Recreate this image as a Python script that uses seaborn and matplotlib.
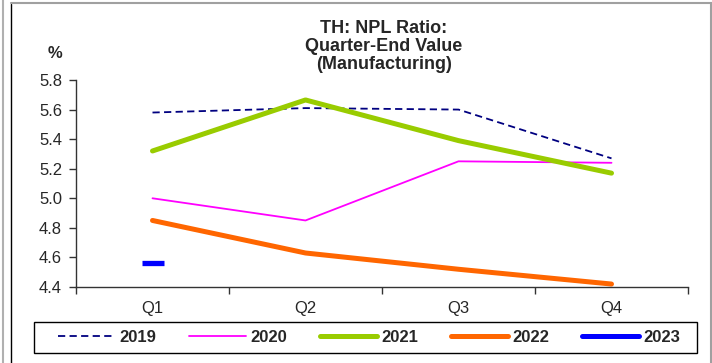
import numpy as np
import pandas as pd
import matplotlib
matplotlib.use("Agg")
import matplotlib.pyplot as plt
from matplotlib.lines import Line2D
from matplotlib.patches import Rectangle
import seaborn as sns

# data (NPL ratio, %)
quarters = ["Q1", "Q2", "Q3", "Q4"]
y2019 = [5.58, 5.61, 5.60, 5.27]
y2020 = [5.00, 4.85, 5.25, 5.24]
y2021 = [5.32, 5.665, 5.39, 5.17]
y2022 = [4.85, 4.63, 4.52, 4.42]
y2023 = [4.56]
years = ["2019", "2020", "2021", "2022", "2023"]
y_ticks = [4.4, 4.6, 4.8, 5.0, 5.2, 5.4, 5.6, 5.8]

series = {"2019": y2019, "2020": y2020, "2021": y2021, "2022": y2022, "2023": y2023}
rows = []
for yr, vals in series.items():
    for i, v in enumerate(vals):
        rows.append({"year": yr, "pos": i, "value": v})
df = pd.DataFrame(rows)

sns.set_style("white")
plt.rcParams["font.family"] = ["Liberation Sans", "DejaVu Sans"]

styles = {
    "2019": dict(color="#000080", lw=1.3, dashes=(4, 2.4)),
    "2020": dict(color="#FF00FF", lw=1.3),
    "2021": dict(color="#99CC00", lw=3.6),
    "2022": dict(color="#FF6600", lw=3.6),
    "2023": dict(color="#0000FF", lw=3.6),
}

fig = plt.figure(figsize=(7.12, 3.63), dpi=100)
ax = fig.add_axes([76 / 712, 1 - 287 / 363, (688 - 76) / 712, (287 - 80) / 363])

for yr in years[:4]:
    st = styles[yr]
    d = df[df["year"] == yr]
    sns.lineplot(data=d, x="pos", y="value", ax=ax, color=st["color"],
                 linewidth=st["lw"], legend=False)
    line = ax.lines[-1]
    if "dashes" in st:
        line.set_dashes(st["dashes"])
    line.set_solid_capstyle("round")

d23 = df[df["year"] == "2023"]
sns.scatterplot(data=d23, x="pos", y="value", ax=ax, marker="_", s=16 ** 2,
                color=styles["2023"]["color"], linewidth=3.8, legend=False)

ax.set_xlim(-0.5, 3.5)
ax.set_ylim(4.4, 5.8)
ax.set_xlabel("")
ax.set_ylabel("")
ax.set_yticks(y_ticks)
ax.set_yticklabels([f"{t:.1f}" for t in y_ticks], fontsize=12)
ax.set_xticks(np.arange(-0.5, 4, 1))
ax.set_xticklabels([])
ax.set_xticks(range(4), minor=True)
ax.set_xticklabels(quarters, minor=True, fontsize=12)
ax.tick_params(axis="both", which="major", direction="out", length=5, width=1,
               color="#333333", pad=5, left=True, bottom=True)
ax.tick_params(axis="x", which="minor", length=0, pad=10)
for s in ["top", "right"]:
    ax.spines[s].set_visible(False)
for s in ["left", "bottom"]:
    ax.spines[s].set_color("#333333")
    ax.spines[s].set_linewidth(1)

fig.text(384 / 712, 1 - 20 / 363, "TH: NPL Ratio:\nQuarter-End Value\n(Manufacturing)",
         ha="center", va="top", fontsize=13, fontweight="bold", linespacing=1.08)
fig.text(55 / 712, 1 - 53 / 363, "%", ha="center", va="center", fontsize=12,
         fontweight="bold")

handles = []
for yr in years:
    st = styles[yr]
    h = Line2D([], [], color=st["color"], lw=st["lw"], solid_capstyle="round")
    if "dashes" in st:
        h.set_dashes(st["dashes"])
    handles.append(h)
leg = fig.legend(handles, years, loc="center", ncol=5,
                 bbox_to_anchor=(369 / 712, 1 - 337.5 / 363),
                 bbox_transform=fig.transFigure, frameon=False,
                 handlelength=3.4, handletextpad=0.25, columnspacing=2.0,
                 borderaxespad=0, prop={"weight": "bold", "size": 12})
fig.add_artist(Rectangle((34 / 712, 1 - 353 / 363), (697 - 34) / 712, 31 / 363,
                         transform=fig.transFigure, fill=False, edgecolor="black", lw=1))

# surrounding frame of the chart area
fig.add_artist(Line2D([11 / 712, 11 / 712], [0, 1 - 4 / 363], transform=fig.transFigure,
                      color="black", lw=1))
fig.add_artist(Line2D([11 / 712, 1], [1 - 3 / 363, 1 - 3 / 363], transform=fig.transFigure,
                      color="#A0A0A0", lw=1.5))
fig.add_artist(Line2D([710.5 / 712, 710.5 / 712], [0, 1 - 3 / 363], transform=fig.transFigure,
                      color="#A0A0A0", lw=1.5))
fig.add_artist(Line2D([2.5 / 712, 2.5 / 712], [0, 1], transform=fig.transFigure,
                      color="#B0B0B0", lw=1.5))

fig.savefig("out.png", dpi=100)
